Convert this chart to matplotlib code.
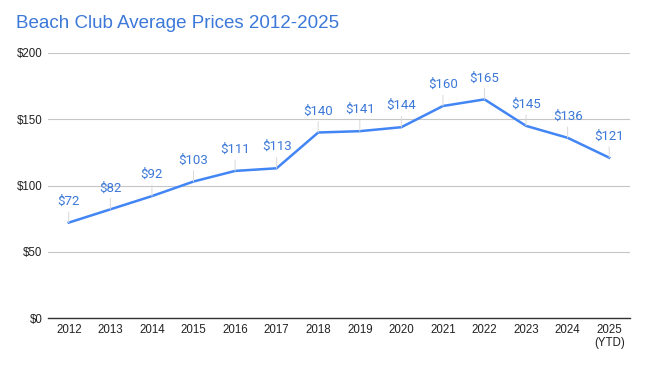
import matplotlib
matplotlib.use("Agg")
import matplotlib.pyplot as plt

years = ['2012', '2013', '2014', '2015', '2016', '2017', '2018', '2019',
         '2020', '2021', '2022', '2023', '2024', '2025\n(YTD)']
prices = [72, 82, 92, 103, 111, 113, 140, 141, 144, 160, 165, 145, 136, 121]

blue = '#3c78d8'
line_blue = '#4285f4'

plt.rcParams['font.family'] = ['Liberation Sans', 'DejaVu Sans']

fig = plt.figure(figsize=(6.45, 3.65), dpi=100)
ax = fig.add_axes([48 / 645, 1 - 318 / 365, 582 / 645, 265 / 365])

x = list(range(len(years)))
ax.plot(x, prices, color=line_blue, lw=1.8, zorder=3)

# labels sit above each point, with a faint leader line down to it
for xi, p in zip(x, prices):
    ax.annotate(f'${p}', xy=(xi, p), xytext=(0, 15.5), textcoords='offset points',
                ha='center', va='center', color=blue, fontsize=9.5,
                family=['Roboto', 'DejaVu Sans'],
                arrowprops=dict(arrowstyle='-', color='#d9d9d9', lw=0.7,
                                shrinkA=1, shrinkB=0))

ax.set_xlim(-0.5, len(years) - 0.5)
ax.set_ylim(0, 200)
ax.set_yticks([0, 50, 100, 150, 200])
ax.set_yticklabels(['$0', '$50', '$100', '$150', '$200'])
ax.set_xticks(x)
ax.set_xticklabels(years)
ax.tick_params(length=0, labelsize=8.3, colors='#222222', pad=4)
ax.grid(axis='y', color='#c6c6c6', lw=0.8)
ax.set_axisbelow(True)
for s in ['top', 'right', 'left']:
    ax.spines[s].set_visible(False)
ax.spines['bottom'].set_color('#333333')
ax.spines['bottom'].set_linewidth(1)

fig.text(16 / 645, 1 - 23 / 365, 'Beach Club Average Prices 2012-2025',
         color=blue, fontsize=13.5, va='center', ha='left')

fig.savefig('out.png', dpi=100, facecolor='white')
